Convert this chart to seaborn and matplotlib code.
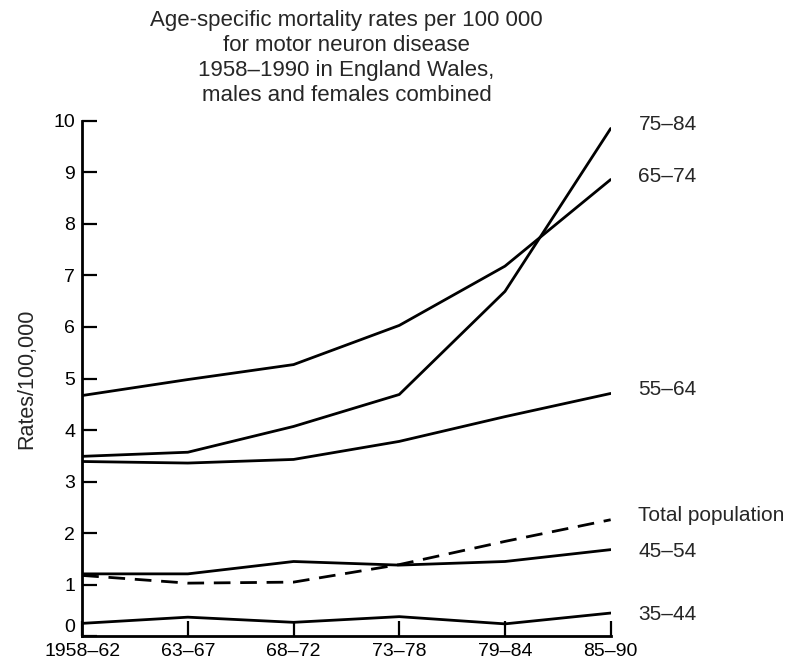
import matplotlib
matplotlib.use("Agg")
import matplotlib.pyplot as plt
import numpy as np
import pandas as pd
import seaborn as sns

# periods on the x axis
periods = ['1958–62', '63–67', '68–72', '73–78', '79–84', '85–90']

# rates per 100 000
age_75_84 = [3.49, 3.57, 4.07, 4.69, 6.69, 9.85]
age_65_74 = [4.67, 4.98, 5.27, 6.03, 7.18, 8.86]
age_55_64 = [3.39, 3.36, 3.43, 3.78, 4.26, 4.71]
total_pop = [1.18, 1.03, 1.05, 1.39, 1.84, 2.26]
age_45_54 = [1.21, 1.21, 1.45, 1.38, 1.45, 1.68]
age_35_44 = [0.25, 0.37, 0.27, 0.38, 0.24, 0.45]

series_names = ['75–84', '65–74', '55–64', 'Total population', '45–54', '35–44']
series_values = [age_75_84, age_65_74, age_55_64, total_pop, age_45_54, age_35_44]
label_nudge = [3, 2, 3, 3, -1, -1]  # small vertical shifts of the end labels (points)

sns.set_style("ticks")
plt.rcParams['font.family'] = ['Liberation Sans', 'DejaVu Sans']

fig = plt.figure(figsize=(7.9, 6.6), dpi=100)
ax = fig.add_axes([0.104, 0.036, 0.669, 0.781])

x = np.arange(len(periods))
for name, vals, dy in zip(series_names, series_values, label_nudge):
    ls = (0, (6, 3.5)) if name == 'Total population' else '-'
    sns.lineplot(x=x, y=vals, color='black', linewidth=2.0, linestyle=ls, ax=ax)
    ax.annotate(name, xy=(x[-1], vals[-1]), xytext=(20, dy), textcoords='offset points',
                ha='left', va='center', fontsize=15, annotation_clip=False)

ax.set_xlim(0, len(periods) - 1)
ax.set_ylim(0, 10)
ax.set_xticks(x)
ax.set_xticklabels(periods)
ax.set_yticks(range(0, 11))
ax.tick_params(axis='both', direction='in', length=11, width=1.6, labelsize=14, colors='black')
ax.tick_params(axis='x', pad=5)
ax.tick_params(axis='y', pad=5)
# the "0" sits a little above the corner, as in the original
ax.get_yticklabels()[0].set_va('bottom')
for s in ['left', 'bottom']:
    ax.spines[s].set_linewidth(2.0)
    ax.spines[s].set_color('black')
sns.despine(ax=ax)

ax.set_ylabel('Rates/100,000', fontsize=15.5, labelpad=12)
ax.set_xlabel('')
ax.set_title('Age-specific mortality rates per 100 000\nfor motor neuron disease\n'
             '1958–1990 in England Wales,\nmales and females combined',
             fontsize=16, linespacing=1.25, pad=14)

fig.savefig('out.png', dpi=100)
